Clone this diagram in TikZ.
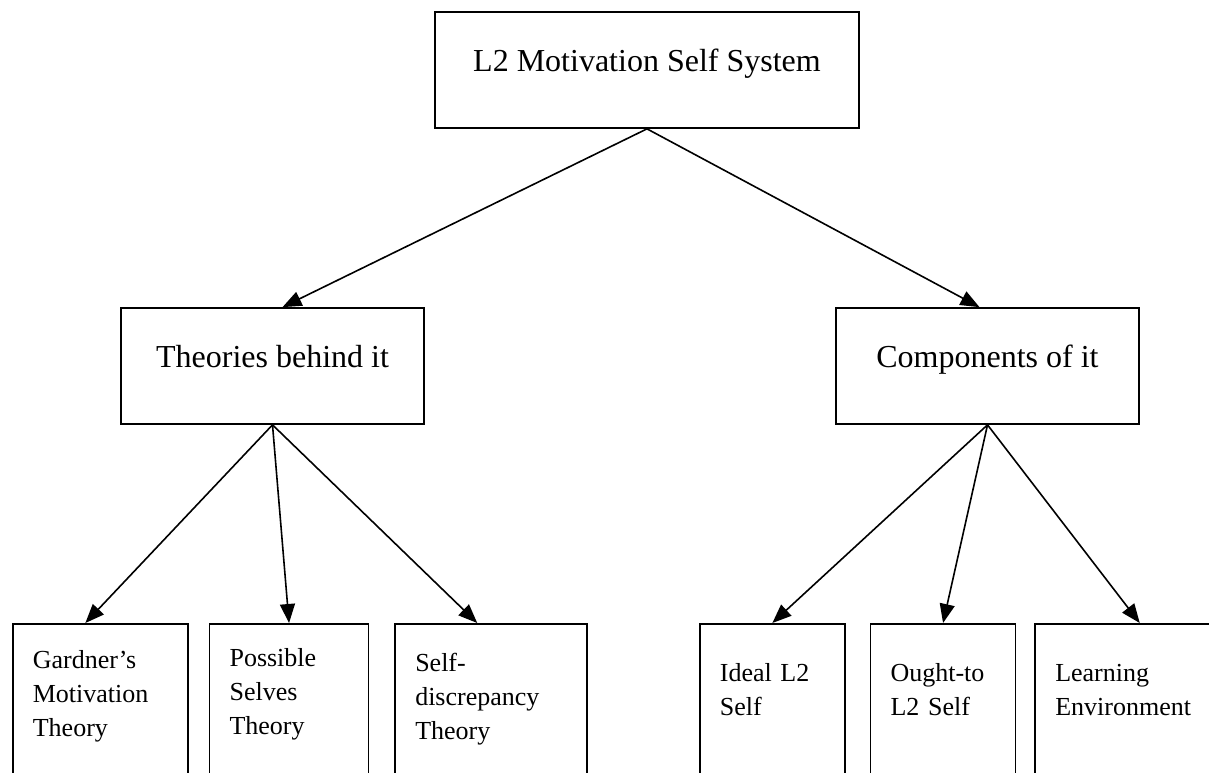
\documentclass[tikz,border=0pt]{standalone}
\usepackage{fontspec}
\setmainfont{Liberation Serif}
\usetikzlibrary{arrows.meta, positioning}

\begin{document}
\begin{tikzpicture}[x=1pt, y=-1pt,
  every node/.style={draw, line width=1.7pt, inner sep=0pt},
  head/.style={minimum height=116pt, font=\fontsize{32}{38}\selectfont, text height=22pt, text depth=19pt},
  leaf/.style={anchor=north west, align=left, inner xsep=20pt, inner ysep=0pt, text height=45pt, text depth=170pt, font=\fontsize{26}{34}\selectfont},
  link/.style={line width=1.6pt, ->, >={Triangle[length=19pt,width=15pt]}}]
\path[use as bounding box] (0,0) rectangle (1209,773);
\clip (0,0) rectangle (1209,773);
% top and middle row
\node[head, minimum width=424pt] (sys)  at (647,70)    {L2 Motivation Self System};
\node[head, minimum width=303pt] (theo) at (272.5,366) {Theories behind it};
\node[head, minimum width=303pt] (comp) at (987.5,366) {Components of it};
% theories
\node[leaf, text width=135pt] (gard) at (12,623) {Gardner’s\\Motivation\\Theory};
\node[leaf, text width=119pt, right=20pt of gard.north east, anchor=north west, text height=43pt] (poss) {Possible\\Selves\\Theory};
\node[leaf, text width=152pt, right=25pt of poss.north east, anchor=north west, text height=48pt] (selfd) {Self-\\discrepancy\\Theory};
% components
\node[leaf, text width=105pt, text height=58pt] (ideal) at (699,623) {Ideal L2\\Self};
\node[leaf, text width=105pt, right=24pt of ideal.north east, anchor=north west, text height=58pt] (ought) {Ought-to\\L2 Self};
\node[leaf, text width=175pt, right=18pt of ought.north east, anchor=north west, text height=58pt] (learn) {Learning\\Environment};
\draw[link] (sys.south) -- ([xshift=10pt]theo.north);
\draw[link] (sys.south) -- ([xshift=-8pt]comp.north);
\draw[link] (theo.south) -- ([xshift=-15pt]gard.north);
\draw[link] (theo.south) -- (poss.north);
\draw[link] (theo.south) -- ([xshift=-14pt]selfd.north);
\draw[link] (comp.south) -- (ideal.north);
\draw[link] (comp.south) -- (ought.north);
\draw[link] (comp.south) -- ([xshift=-3pt]learn.north);
\end{tikzpicture}
\end{document}
